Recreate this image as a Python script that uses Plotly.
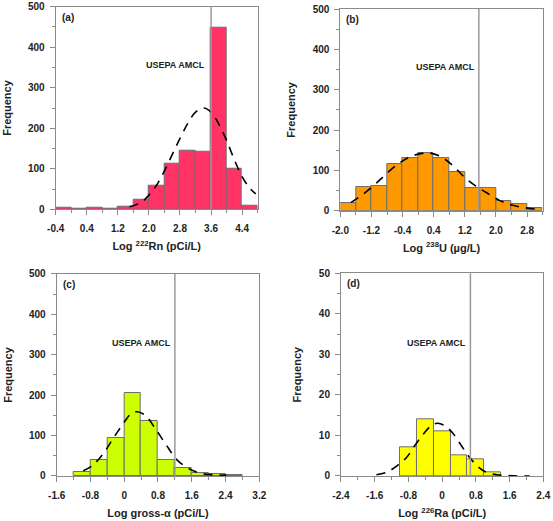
import plotly.graph_objects as go

# ---------------- data ----------------
# (a) 222Rn
rn_bins = [-0.4, 0.0, 0.4, 0.8, 1.2, 1.6, 2.0, 2.4, 2.8, 3.2, 3.6, 4.0, 4.4]
rn_counts = [3, 1, 3, 2, 7, 23, 59, 113, 145, 143, 449, 100, 9]
rn_curve_x = [1.5, 1.8, 2.0, 2.2, 2.4, 2.6, 2.8, 3.0, 3.2, 3.4, 3.6, 3.8, 4.0, 4.2, 4.4, 4.6, 4.75]
rn_curve_y = [6, 17, 35, 60, 95, 135, 175, 212, 240, 250, 240, 210, 170, 122, 80, 52, 38]
rn_amcl = 3.6
rn_ticks = [-0.4, 0.4, 1.2, 2.0, 2.8, 3.6, 4.4]
rn_ticktext = ["-0.4", "0.4", "1.2", "2.0", "2.8", "3.6", "4.4"]

# (b) 238U
u_bins = [-2.0, -1.6, -1.2, -0.8, -0.4, 0.0, 0.4, 0.8, 1.2, 1.6, 2.0, 2.4, 2.8]
u_counts = [18, 58, 60, 115, 130, 142, 130, 96, 56, 57, 24, 17, 7]
u_curve_x = [-1.73, -1.4, -1.1, -0.8, -0.5, -0.2, 0.1, 0.3, 0.6, 0.9, 1.2, 1.5, 1.8, 2.1, 2.4, 2.7, 3.0, 3.17]
u_curve_y = [20, 42, 66, 93, 117, 134, 142, 143, 133, 111, 82, 60, 42, 25, 14, 8, 4, 3]
u_amcl = 1.56
u_ticks = [-2.0, -1.2, -0.4, 0.4, 1.2, 2.0, 2.8]
u_ticktext = ["-2.0", "-1.2", "-0.4", "0.4", "1.2", "2.0", "2.8"]

# (c) gross-alpha
ga_bins = [-1.2, -0.8, -0.4, 0.0, 0.4, 0.8, 1.2, 1.6, 2.0, 2.4]
ga_counts = [11, 39, 95, 205, 136, 40, 21, 7, 4, 2]
ga_curve_x = [-0.97, -0.75, -0.5, -0.25, 0.0, 0.15, 0.3, 0.5, 0.75, 1.0, 1.25, 1.5, 1.8, 2.1, 2.42]
ga_curve_y = [13, 26, 55, 95, 133, 153, 159, 150, 115, 76, 40, 20, 7, 3, 2]
ga_amcl = 1.2
ga_ticks = [-1.6, -0.8, 0.0, 0.8, 1.6, 2.4, 3.2]
ga_ticktext = ["-1.6", "-0.8", "0", "0.8", "1.6", "2.4", "3.2"]

# (d) 226Ra
ra_bins = [-1.0, -0.6, -0.2, 0.2, 0.6, 1.0]
ra_counts = [7, 14, 11, 5, 4, 1]
ra_curve_x = [-1.56, -1.3, -1.05, -0.85, -0.65, -0.45, -0.25, -0.12, 0.05, 0.25, 0.45, 0.65, 0.85, 1.05, 1.3, 1.55, 1.8, 2.08]
ra_curve_y = [0.3, 1.0, 2.7, 4.5, 7.5, 10.3, 12.5, 13.0, 12.5, 10.6, 7.6, 4.6, 2.3, 0.9, 0.3, 0.1, 0.0, 0.0]
ra_amcl = 0.67
ra_ticks = [-2.4, -1.6, -0.8, 0.0, 0.8, 1.6, 2.4]
ra_ticktext = ["-2.4", "-1.6", "-0.8", "0", "0.8", "1.6", "2.4"]

panels = [
    dict(bins=rn_bins, counts=rn_counts, cx=rn_curve_x, cy=rn_curve_y, amcl=rn_amcl,
         tv=rn_ticks, tt=rn_ticktext,
         color="#FF3366", xr=[-0.4, 4.8], x0=-0.4, yr=[0, 500], dy=100,
         xtitle="Log <sup>222</sup>Rn (pCi/L)", label="(a)", tx=2.69, ty=356,
         xd=[0.1007, 0.4660], yd=[0.5983, 0.9871]),
    dict(bins=u_bins, counts=u_counts, cx=u_curve_x, cy=u_curve_y, amcl=u_amcl,
         tv=u_ticks, tt=u_ticktext,
         color="#FF9900", xr=[-2.0, 3.2], x0=-2.0, yr=[0, 500], dy=100,
         xtitle="Log <sup>238</sup>U (µg/L)", label="(b)", tx=0.71, ty=357,
         xd=[0.6154, 0.9813], yd=[0.5956, 0.9827]),
    dict(bins=ga_bins, counts=ga_counts, cx=ga_curve_x, cy=ga_curve_y, amcl=ga_amcl,
         tv=ga_ticks, tt=ga_ticktext,
         color="#CCFF00", xr=[-1.6, 3.2], x0=-1.6, yr=[0, 500], dy=100,
         xtitle="Log gross-α (pCi/L)", label="(c)", tx=0.40, ty=328,
         xd=[0.1025, 0.4689], yd=[0.0864, 0.4741]),
    dict(bins=ra_bins, counts=ra_counts, cx=ra_curve_x, cy=ra_curve_y, amcl=ra_amcl,
         tv=ra_ticks, tt=ra_ticktext,
         color="#FFFF00", xr=[-2.4, 2.4], x0=-2.4, yr=[0, 50], dy=10,
         xtitle="Log <sup>226</sup>Ra (pCi/L)", label="(d)", tx=-0.13, ty=32.7,
         xd=[0.6166, 0.9825], yd=[0.0864, 0.4754]),
]

FONT = "Arial, Liberation Sans, sans-serif"
TXT = "#222222"
AXC = "#8a8a8a"

fig = go.Figure()
layout = dict(
    width=553, height=521,
    margin=dict(l=0, r=0, t=0, b=0, autoexpand=False),
    paper_bgcolor="white", plot_bgcolor="white",
    showlegend=False,
    font=dict(family=FONT, color=TXT),
    bargap=0,
)
annotations = []
shapes = []

for i, p in enumerate(panels, start=1):
    xa = "x" if i == 1 else f"x{i}"
    ya = "y" if i == 1 else f"y{i}"
    fig.add_trace(go.Bar(
        x=p["bins"], y=p["counts"], width=0.4, offset=0,
        marker=dict(color=p["color"], line=dict(color="#6e6e6e", width=1)),
        xaxis=xa, yaxis=ya, hoverinfo="skip"))
    fig.add_trace(go.Scatter(
        x=p["cx"], y=p["cy"], mode="lines", line_shape="spline",
        line=dict(color="black", width=1.6, dash="9px,7px"),
        xaxis=xa, yaxis=ya, hoverinfo="skip"))
    xkey = "xaxis" if i == 1 else f"xaxis{i}"
    ykey = "yaxis" if i == 1 else f"yaxis{i}"
    layout[xkey] = dict(
        domain=p["xd"], anchor=ya, range=p["xr"], automargin=False,
        tickmode="array", tickvals=p["tv"], ticktext=p["tt"],
        showgrid=False, zeroline=False,
        showline=True, mirror=True, linecolor=AXC, linewidth=1,
        ticks="outside", ticklen=5, tickcolor=AXC, ticklabelstandoff=5,
        minor=dict(ticks="outside", ticklen=3, dtick=0.4, tick0=p["x0"], tickcolor=AXC, showgrid=False),
        tickfont=dict(family=FONT, size=10, color=TXT, weight="bold"),
        title=dict(text=p["xtitle"], font=dict(family=FONT, size=11, color=TXT, weight="bold"), standoff=9),
    )
    layout[ykey] = dict(
        domain=p["yd"], anchor=xa, range=p["yr"], dtick=p["dy"], automargin=False,
        showgrid=False, zeroline=False,
        showline=True, mirror=True, linecolor=AXC, linewidth=1,
        ticks="outside", ticklen=5, tickcolor=AXC, ticklabelstandoff=3,
        minor=dict(ticks="outside", ticklen=3, dtick=p["dy"] / 2, tickcolor=AXC, showgrid=False),
        tickfont=dict(family=FONT, size=10, color=TXT, weight="bold"),
        title=dict(text="Frequency", font=dict(family=FONT, size=11, color=TXT, weight="bold"), standoff=14),
    )
    shapes.append(dict(type="line", xref=xa, yref=f"{ya} domain", x0=p["amcl"], x1=p["amcl"],
                       y0=0, y1=1, line=dict(color="#9a9a9a", width=1.5)))
    annotations.append(dict(text="USEPA AMCL", x=p["tx"], y=p["ty"], xref=xa, yref=ya,
                            showarrow=False, font=dict(family=FONT, size=9, color=TXT, weight="bold")))
    annotations.append(dict(text=p["label"], x=0.02, y=0.985, xref=f"{xa} domain", yref=f"{ya} domain",
                            xanchor="left", yanchor="top", showarrow=False,
                            font=dict(family=FONT, size=10, color=TXT, weight="bold")))

layout["annotations"] = annotations
layout["shapes"] = shapes
fig.update_layout(**layout)
fig.write_html("out.html")
